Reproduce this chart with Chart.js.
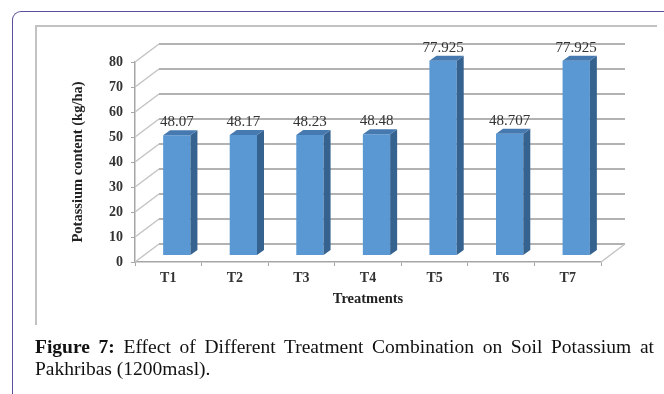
<!DOCTYPE html>
<html>
<head>
<meta charset="utf-8">
<script src="https://cdn.jsdelivr.net/npm/chart.js@4.4.1/dist/chart.umd.min.js"></script>
<style>
  html, body { margin: 0; padding: 0; background: #fff; width: 664px; height: 394px; overflow: hidden; }
  #wrap { position: relative; width: 664px; height: 394px; }
  #outer { position: absolute; left: 12px; top: 11px; width: 700px; height: 420px;
           border-left: 1.5px solid #5a4f98; border-top: 1.5px solid #5a4f98; border-top-left-radius: 9px; }
  #inner { position: absolute; left: 35px; top: 25px; width: 620px; height: 298px;
           border-left: 2px solid #c2c2c2; border-top: 2px solid #c2c2c2; }
  canvas { position: absolute; left: 0; top: 0; }
  #caption { position: absolute; left: 35px; top: 336px; width: 619px; font-family: "Liberation Serif", serif;
             font-size: 19.5px; line-height: 22px; color: #111; text-align: justify; }
</style>
</head>
<body>
<div id="wrap">
  <div id="outer"></div>
  <div id="inner"></div>
  <canvas id="chart" width="664" height="394"></canvas>
  <div id="caption"><b>Figure 7:</b> Effect of Different Treatment Combination on Soil Potassium at Pakhribas (1200masl).</div>
</div>
<script>
// Soil potassium per treatment (kg/ha)
const categories = ['T1', 'T2', 'T3', 'T4', 'T5', 'T6', 'T7'];
const potassium = [48.07, 48.17, 48.23, 48.48, 77.925, 48.707, 77.925];
const yTicks = [0, 10, 20, 30, 40, 50, 60, 70, 80];

// pseudo-3D geometry: back wall offset, bar plane offset, bar depth
const WALL = { dx: 24, dy: -18 };
const BAR_SHIFT = { dx: 8.5, dy: -6.5 };
const BAR_DEPTH = { dx: 7, dy: -5 };
const SERIF = '"Liberation Serif", "Times New Roman", serif';

const depthPlugin = {
  id: 'depth3d',
  beforeDatasetsDraw(chart) {
    const { ctx, chartArea: a, scales: { y } } = chart;
    ctx.save();
    // gridlines on the back wall
    ctx.lineWidth = 2;
    ctx.strokeStyle = '#b2b2b2';
    yTicks.forEach(v => {
      const py = y.getPixelForValue(v);
      ctx.beginPath();
      ctx.moveTo(a.left + WALL.dx, py + WALL.dy);
      ctx.lineTo(a.right + WALL.dx, py + WALL.dy);
      ctx.stroke();
    });
    // side wall connectors from the value axis to the back wall
    ctx.lineWidth = 1.5;
    ctx.strokeStyle = '#c4c4c4';
    yTicks.forEach(v => {
      const py = y.getPixelForValue(v);
      ctx.beginPath();
      ctx.moveTo(a.left, py);
      ctx.lineTo(a.left + WALL.dx, py + WALL.dy);
      ctx.stroke();
    });
    // right edge of the floor
    const p0 = y.getPixelForValue(yTicks[0]);
    ctx.beginPath();
    ctx.moveTo(a.right, p0);
    ctx.lineTo(a.right + WALL.dx, p0 + WALL.dy);
    ctx.stroke();
    ctx.restore();
  },
  beforeDatasetDraw(chart) {
    chart.ctx.save();
    chart.ctx.translate(BAR_SHIFT.dx, BAR_SHIFT.dy);
  },
  afterDatasetDraw(chart, args) {
    const ctx = chart.ctx;
    args.meta.data.forEach(bar => {
      const { x, y, base, width } = bar.getProps(['x', 'y', 'base', 'width'], true);
      const l = x - width / 2, r = x + width / 2;
      // right side face
      ctx.fillStyle = '#36628f';
      ctx.beginPath();
      ctx.moveTo(r, y);
      ctx.lineTo(r + BAR_DEPTH.dx, y + BAR_DEPTH.dy);
      ctx.lineTo(r + BAR_DEPTH.dx, base + BAR_DEPTH.dy);
      ctx.lineTo(r, base);
      ctx.closePath();
      ctx.fill();
      // top face
      ctx.fillStyle = '#4679b0';
      ctx.beginPath();
      ctx.moveTo(l, y);
      ctx.lineTo(l + BAR_DEPTH.dx, y + BAR_DEPTH.dy);
      ctx.lineTo(r + BAR_DEPTH.dx, y + BAR_DEPTH.dy);
      ctx.lineTo(r, y);
      ctx.closePath();
      ctx.fill();
    });
    ctx.restore();
  },
  afterDatasetsDraw(chart) {
    const ctx = chart.ctx;
    const meta = chart.getDatasetMeta(0);
    ctx.save();
    ctx.font = '15px ' + SERIF;
    ctx.fillStyle = '#333';
    ctx.textAlign = 'center';
    ctx.textBaseline = 'middle';
    meta.data.forEach((bar, i) => {
      ctx.fillText(String(potassium[i]), bar.x + BAR_SHIFT.dx, bar.y + BAR_SHIFT.dy - 13);
    });
    ctx.restore();
  }
};

new Chart(document.getElementById('chart'), {
  type: 'bar',
  data: {
    labels: categories,
    datasets: [{
      data: potassium,
      backgroundColor: '#5a98d3',
      borderWidth: 0,
      barPercentage: 0.41,
      categoryPercentage: 1,
      clip: false
    }]
  },
  options: {
    responsive: false,
    animation: false,
    devicePixelRatio: 1,
    layout: { padding: { left: 70, right: 63, top: 62, bottom: 86 } },
    plugins: { legend: { display: false }, tooltip: { enabled: false } },
    scales: {
      x: {
        grid: { drawOnChartArea: false, drawTicks: true, tickLength: 4, color: '#a6a6a6' },
        border: { display: true, color: '#a6a6a6', width: 1.5 },
        ticks: { padding: 4, color: '#333', font: { family: SERIF, size: 14, weight: 'bold' } },
        title: { display: true, text: 'Treatments', color: '#222', padding: 0,
                 font: { family: SERIF, size: 14.5, weight: 'bold' } },
        afterFit: s => { s.height = 46; }
      },
      y: {
        min: yTicks[0],
        max: yTicks[yTicks.length - 1],
        ticks: { stepSize: yTicks[1] - yTicks[0], padding: 8, color: '#333',
                 font: { family: SERIF, size: 14, weight: 'bold' } },
        grid: { drawOnChartArea: false, drawTicks: true, tickLength: 4, color: '#a6a6a6' },
        border: { display: true, color: '#a6a6a6', width: 1.5 },
        title: { display: true, text: 'Potassium content (kg/ha)', color: '#222', padding: 0,
                 font: { family: SERIF, size: 14.5, weight: 'bold' } },
        afterFit: s => { s.width = 65; }
      }
    }
  },
  plugins: [depthPlugin]
});
</script>
</body>
</html>
